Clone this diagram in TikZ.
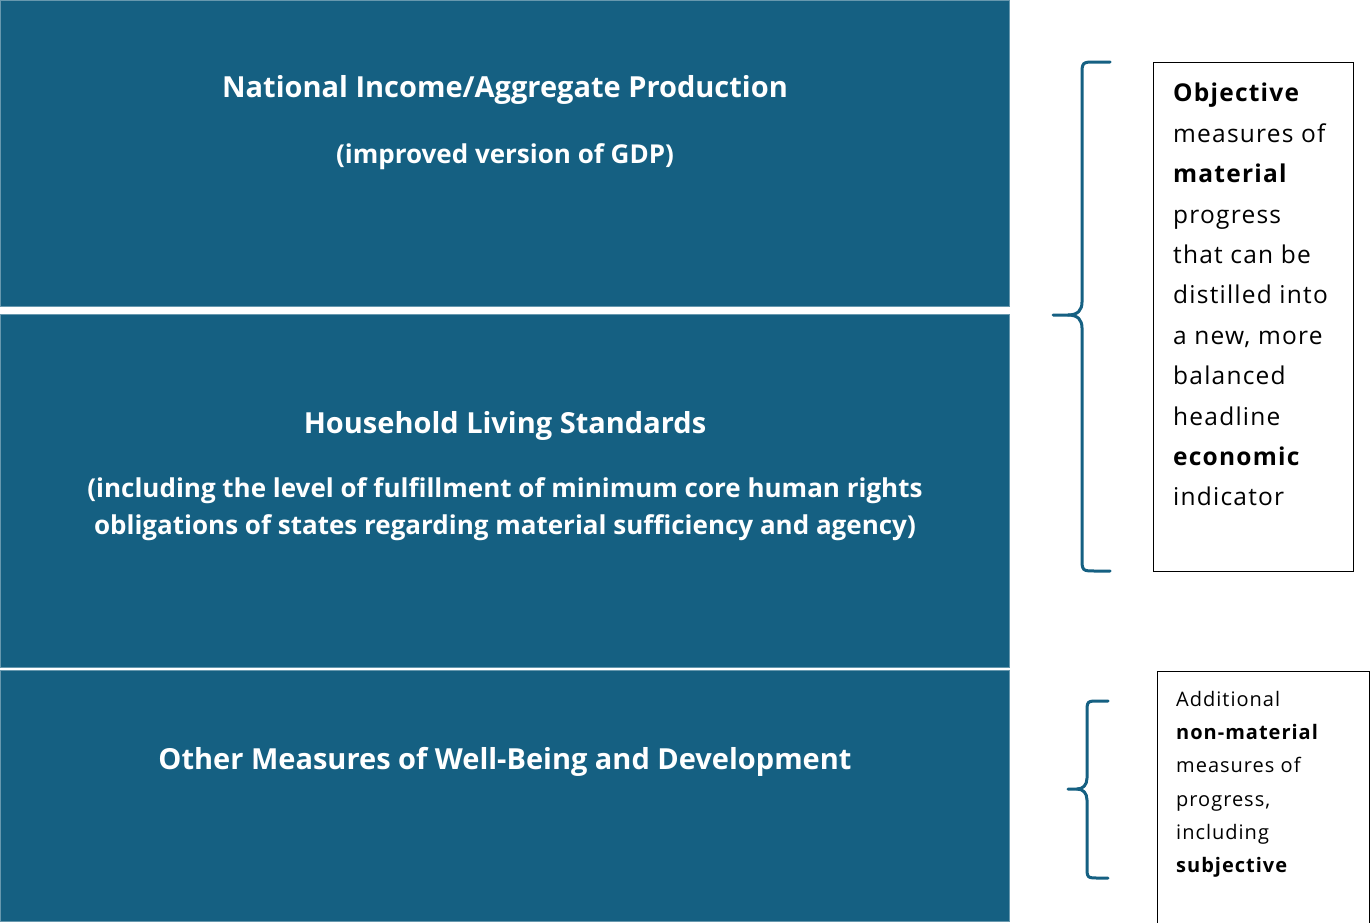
\documentclass[tikz,border=0pt]{standalone}
\usepackage{fontspec}
\setmainfont{Open Sans}
\newfontfamily\notefont[LetterSpace=5]{Open Sans}
\definecolor{boxblue}{HTML}{156082}
\begin{document}
\begin{tikzpicture}[x=1pt,y=-1pt,
  band/.style={fill=boxblue, draw=boxblue!65!white, line width=0.8pt, anchor=north west, inner sep=0pt},
  bandtitle/.style={text=white, font=\fontsize{29}{34}\selectfont\bfseries, inner sep=0pt, anchor=base},
  bandsub/.style={text=white, font=\fontsize{26}{37.5}\selectfont\bfseries, inner sep=0pt, align=center},
  brace/.style={draw=boxblue, line width=3pt, line cap=round, line join=round},
  notebox/.style={draw=black, line width=1.2pt, anchor=north west, inner sep=0pt},
  notetext/.style={anchor=north west, inner sep=0pt, align=left, text=black}
]
\useasboundingbox (0,0) rectangle (1370,922);
\clip (0,0) rectangle (1370,922);
\fill[white] (0,0) rectangle (1370,922);

% bands
\node[band, minimum width=1009pt, minimum height=306pt] (b1) at (0,0) {};
\node[band, minimum width=1009pt, minimum height=353pt] (b2) at (0,314) {};
\node[band, minimum width=1009pt, minimum height=251pt] (b3) at (0,670) {};

\node[bandtitle] (t1) at (505,97) {National Income/Aggregate Production};
\node[bandsub, anchor=base] (s1) at (505,163) {(improved version of GDP)};
\node[bandtitle] (t2) at (505,433) {Household Living Standards};
\node[bandsub] (s2) at (505,509) {(including the level of fulfillment of minimum core human rights\\obligations of states regarding material sufficiency and agency)};
\node[bandtitle] (t3) at (505,769) {Other Measures of Well-Being and Development};

% braces
\draw[brace] (1110,62) -- (1096,62) .. controls (1082,62) .. (1082,76) -- (1082,302)
  .. controls (1082,310) and (1078,315) .. (1068,315) -- (1053,315);
\draw[brace] (1068,315) .. controls (1078,315) and (1082,320) .. (1082,328) -- (1082,557)
  .. controls (1082,571) .. (1096,571) -- (1110,571);

\draw[brace] (1108,701) -- (1099,701) .. controls (1087,701) .. (1087,713) -- (1087,778)
  .. controls (1087,785) and (1083,789) .. (1077,789) -- (1068,789);
\draw[brace] (1077,789) .. controls (1083,789) and (1087,793) .. (1087,800) -- (1087,866)
  .. controls (1087,878) .. (1099,878) -- (1108,878);

% note boxes
\node[notebox, minimum width=200pt, minimum height=509pt] (n1) at (1153,62) {};
\node[notetext, font=\notefont\fontsize{24.5}{40.4}\selectfont] (n1t) at (1173,83) {\textbf{Objective}\\measures of\\\textbf{material}\\progress\\that can be\\distilled into\\a new, more\\balanced\\headline\\\textbf{economic}\\indicator};

\node[notebox, minimum width=212pt, minimum height=280pt] (n2) at (1157,671) {};
\node[notetext, font=\notefont\fontsize{20}{33.2}\selectfont] (n2t) at (1176,691) {Additional\\\textbf{non-material}\\measures of\\progress,\\including\\\textbf{subjective}};
\end{tikzpicture}
\end{document}
